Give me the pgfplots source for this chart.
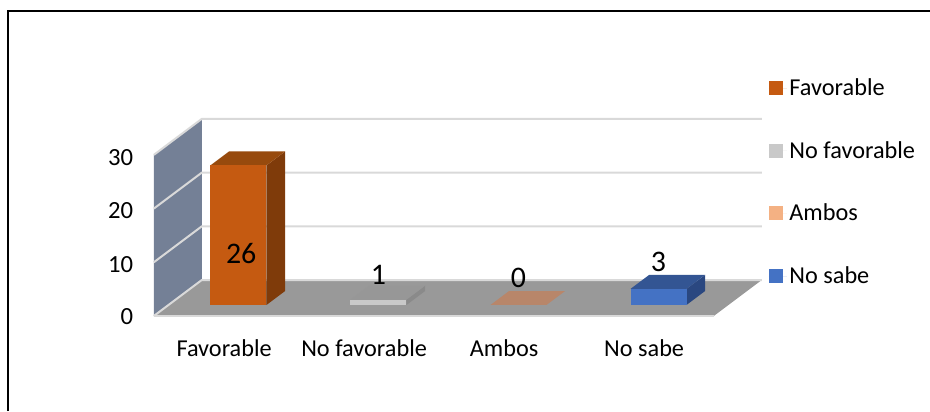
\documentclass[border=0pt]{standalone}
\usepackage{pgfplots}
\usepackage{fontspec}
\setmainfont{Carlito}
\pgfplotsset{compat=1.18}

\definecolor{wallc}{HTML}{748096}
\definecolor{floorc}{HTML}{999999}
\definecolor{gridc}{HTML}{D9D9D9}
\definecolor{favf}{HTML}{C55A11}
\definecolor{favt}{HTML}{974A0D}
\definecolor{favs}{HTML}{7F3B0A}
\definecolor{nof}{HTML}{C9C9C9}
\definecolor{not}{HTML}{979797}
\definecolor{nos}{HTML}{8A8A8A}
\definecolor{amb}{HTML}{F4B183}
\definecolor{ambt}{HTML}{B8866A}
\definecolor{blf}{HTML}{4472C4}
\definecolor{blt}{HTML}{335593}
\definecolor{bls}{HTML}{2A4780}

\begin{document}
\begin{tikzpicture}[x=0.75pt,y=0.75pt]
\useasboundingbox (0,0) rectangle (930,411);
\draw[black,line width=1.5pt] (8,0) -- (8,400) -- (930,400);
\begin{axis}[
    anchor=origin,
    at={(167.85pt,71.25pt)},
    x={(105pt,0pt)},
    y={(36pt,27pt)},
    z={(0pt,4.0275pt)},
    xmin=-0.5, xmax=3.5,
    ymin=0, ymax=1,
    zmin=0, zmax=30,
    clip=false,
    axis line style={draw=none},
    tick style={draw=none},
    xtick={0,1,2,3},
    xticklabels={Favorable,No favorable,Ambos,No sabe},
    ytick=\empty,
    ztick={0,10,20,30},
    xticklabel style={font=\fontsize{18.2}{20}\selectfont,xshift=5.2pt,yshift=-14pt},
    zticklabel style={font=\fontsize{18.5}{20}\selectfont,xshift=-12pt,yshift=2.5pt},
    /pgf/number format/assume math mode=true,
    legend style={draw=none,fill=none,at={(axis description cs:1.011,1.218)},anchor=north west,
        font=\fontsize{18.2}{20}\selectfont,row sep=28.8pt,inner sep=0pt},
    legend cell align=left,
    legend image code/.code={\path (0pt,0pt) -- (13.5pt,0pt);\path[#1] (0pt,-5.25pt) rectangle (10.5pt,5.25pt);},
]
\addlegendimage{fill=favf,draw=none}
\addlegendentry{Favorable}
\addlegendimage{fill=nof,draw=none}
\addlegendentry{No favorable}
\addlegendimage{fill=amb,draw=none}
\addlegendentry{Ambos}
\addlegendimage{fill=blf,draw=none}
\addlegendentry{No sabe}

% side wall and floor
\addplot3[fill=wallc,draw=none,forget plot] coordinates {(-0.5,0,0) (-0.5,1,0) (-0.5,1,30) (-0.5,0,30)};
\addplot3[fill=floorc,draw=none,forget plot] coordinates {(-0.5,0,0) (3.5,0,0) (3.5,1,0) (-0.5,1,0)};

% gridlines, along the wall and the back
\addplot3[gridc,line width=1.5pt,forget plot] coordinates {(-0.5,0,0) (-0.5,1,0) (3.5,1,0)};
\addplot3[gridc,line width=1.5pt,forget plot] coordinates {(-0.5,0,10) (-0.5,1,10) (3.5,1,10)};
\addplot3[gridc,line width=1.5pt,forget plot] coordinates {(-0.5,0,20) (-0.5,1,20) (3.5,1,20)};
\addplot3[gridc,line width=1.5pt,forget plot] coordinates {(-0.5,0,30) (-0.5,1,30) (3.5,1,30)};
\addplot3[gridc,line width=1pt,forget plot] coordinates {(-0.5,0,0) (3.5,0,0)};

% Favorable = 26
\addplot3[fill=favs,draw=none,forget plot] coordinates {(0.2,0.306,0) (0.2,0.694,0) (0.2,0.694,26) (0.2,0.306,26)};
\addplot3[fill=favt,draw=none,forget plot] coordinates {(-0.2,0.306,26) (0.2,0.306,26) (0.2,0.694,26) (-0.2,0.694,26)};
\addplot3[fill=favf,draw=none,forget plot] coordinates {(-0.2,0.306,0) (0.2,0.306,0) (0.2,0.306,26) (-0.2,0.306,26)};

% No favorable = 1
\addplot3[fill=nos,draw=none,forget plot] coordinates {(1.2,0.306,0) (1.2,0.694,0) (1.2,0.694,1) (1.2,0.306,1)};
\addplot3[fill=not,draw=none,forget plot] coordinates {(0.8,0.306,1) (1.2,0.306,1) (1.2,0.694,1) (0.8,0.694,1)};
\addplot3[fill=nof,draw=none,forget plot] coordinates {(0.8,0.306,0) (1.2,0.306,0) (1.2,0.306,1) (0.8,0.306,1)};

% Ambos = 0
\addplot3[fill=ambt,draw=none,forget plot] coordinates {(1.8,0.306,0) (2.2,0.306,0) (2.2,0.694,0) (1.8,0.694,0)};

% No sabe = 3
\addplot3[fill=bls,draw=none,forget plot] coordinates {(3.2,0.306,0) (3.2,0.694,0) (3.2,0.694,3) (3.2,0.306,3)};
\addplot3[fill=blt,draw=none,forget plot] coordinates {(2.8,0.306,3) (3.2,0.306,3) (3.2,0.694,3) (2.8,0.694,3)};
\addplot3[fill=blf,draw=none,forget plot] coordinates {(2.8,0.306,0) (3.2,0.306,0) (3.2,0.306,3) (2.8,0.306,3)};

% data labels
\node[font=\fontsize{22.4}{24}\selectfont,xshift=2pt] at (axis cs:0,0.306,9.6) {26};
\node[font=\fontsize{22.4}{24}\selectfont] at (axis cs:1,0.306,5.6) {1};
\node[font=\fontsize{22.4}{24}\selectfont] at (axis cs:2,0.306,5) {0};
\node[font=\fontsize{22.4}{24}\selectfont] at (axis cs:3,0.306,8) {3};
\end{axis}
\end{tikzpicture}
\end{document}
